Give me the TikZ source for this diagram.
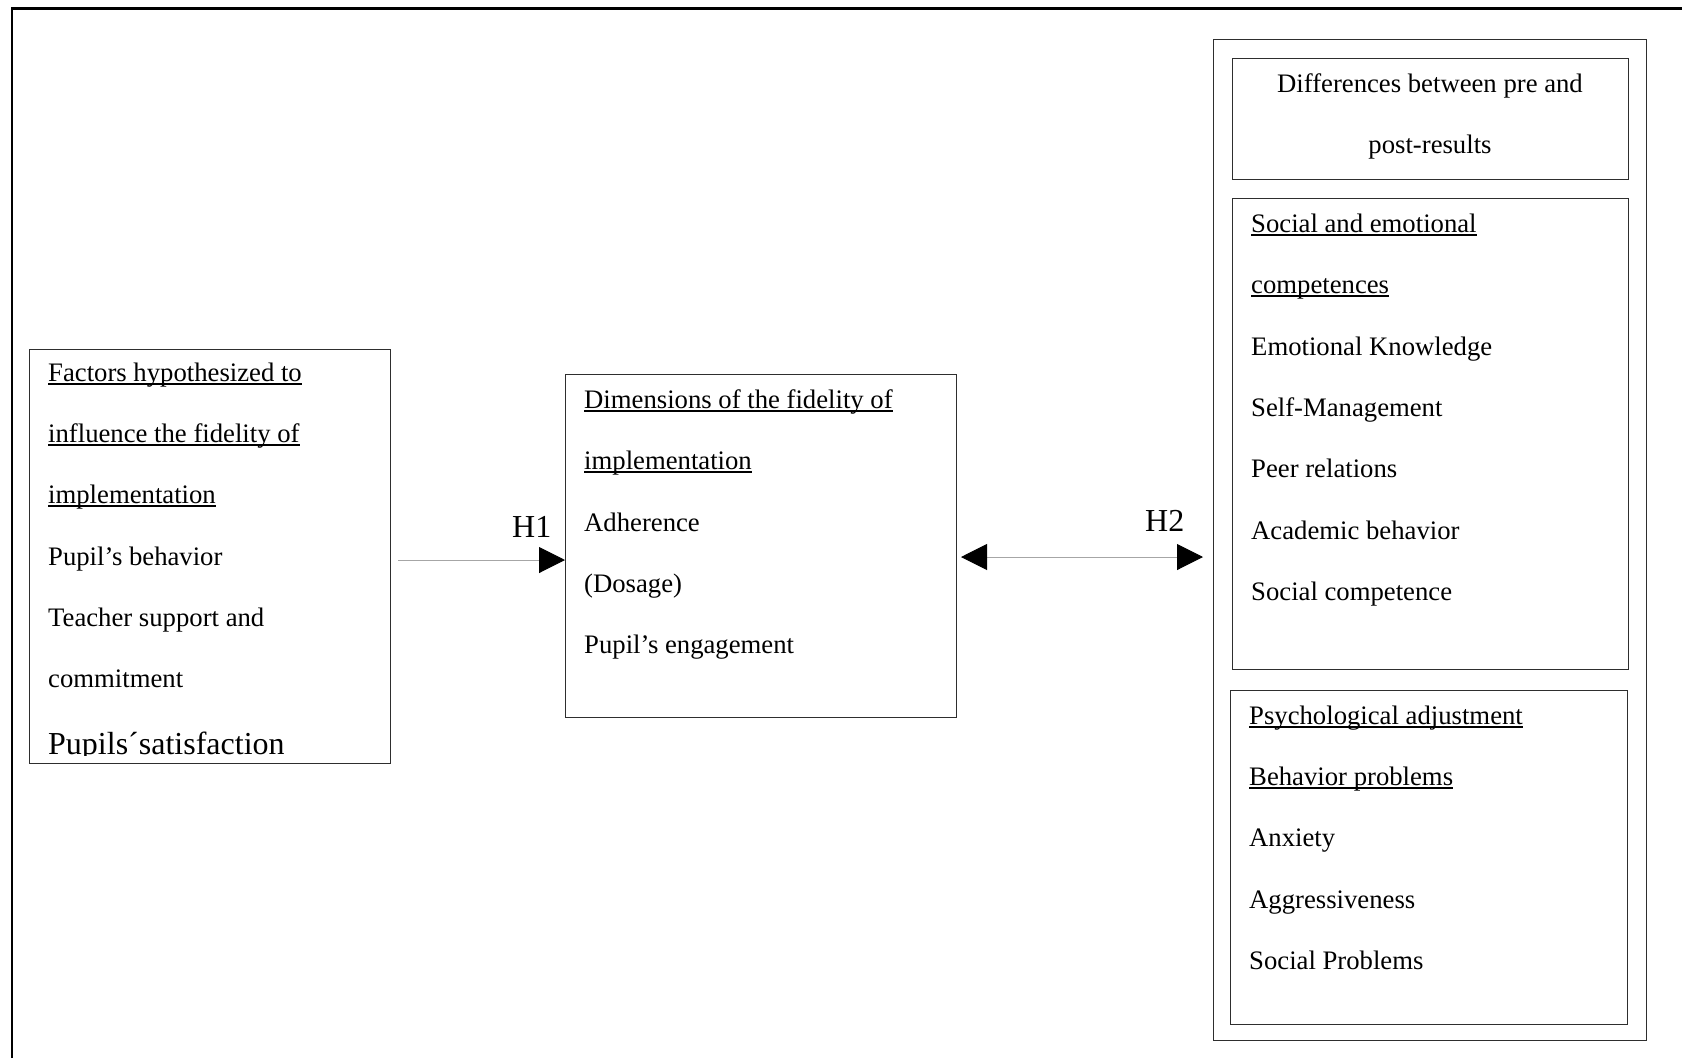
\documentclass[tikz,border=0pt]{standalone}
\usepackage{fontspec}
\setmainfont{Liberation Serif}
\usetikzlibrary{arrows.meta,positioning}
\definecolor{boxline}{HTML}{2E2E2E}
\definecolor{arrowgray}{HTML}{A6A6A6}
\newcommand\bodyfont{\fontsize{26.7}{32}\selectfont}
\newcommand\bigfont{\fontsize{32}{38}\selectfont}
\newcommand\ulin[1]{\setbox0\hbox{#1}\rlap{\rule[-3.6pt]{\wd0}{2pt}}\box0}
\tikzset{
  box/.style={draw=boxline,line width=1.4pt,inner sep=0pt,anchor=north west},
  item/.style={anchor=base west,inner sep=0pt,font=\bodyfont},
  hyp/.style={anchor=base west,inner sep=0pt,font=\bigfont},
  link/.style={arrowgray,line width=1pt},
  headend/.style={-{Triangle[length=26pt,width=26pt,color=black]}},
  headboth/.style={{Triangle[length=26pt,width=26pt,color=black]}-{Triangle[length=26pt,width=26pt,color=black]}}
}

\begin{document}
\begin{tikzpicture}[x=1pt,y=-1pt]
  \useasboundingbox (0,0) rectangle (1682,1058);

  % page frame (top and left edges only)
  \draw[black,line width=2.6pt] (11.8,1058) -- (11.8,8.6) -- (1682,8.6);

  % Factors box
  \begin{scope}
    \clip (29,349) rectangle (391,755);
    \node[anchor=base west,inner sep=0pt,font=\bigfont] (f7) at (48,754) {Pupils´satisfaction};
  \end{scope}
  \node[box,minimum width=361pt,minimum height=414pt] (fac) at (29,349) {};
  \node[item] (f1) at (48,381) {\ulin{Factors hypothesized to}};
  \node[item] (f2) at (48,442) {\ulin{influence the fidelity of}};
  \node[item] (f3) at (48,503) {\ulin{implementation}};
  \node[item] (f4) at (48,565) {Pupil’s behavior};
  \node[item] (f5) at (48,626) {Teacher support and};
  \node[item] (f6) at (48,687) {commitment};

  % Dimensions box
  \node[box,minimum width=391pt,minimum height=343pt] (dim) at (565,374) {};
  \node[item] (d1) at (584,408) {\ulin{Dimensions of the fidelity of}};
  \node[item] (d2) at (584,469) {\ulin{implementation}};
  \node[item] (d3) at (584,531) {Adherence};
  \node[item] (d4) at (584,592) {(Dosage)};
  \node[item] (d5) at (584,653) {Pupil’s engagement};

  % Outcomes box
  \node[box,minimum width=433pt,minimum height=1001pt] (out) at (1213,39) {};
  \node[box,minimum width=396pt,minimum height=121pt] (diff) at (1232,58) {};
  \node[anchor=base,inner sep=0pt,font=\bodyfont] (r1) at (1430,92) {Differences between pre and};
  \node[anchor=base,inner sep=0pt,font=\bodyfont] (r2) at (1430,153) {post-results};

  \node[box,minimum width=396pt,minimum height=471pt] (sec) at (1232,198) {};
  \node[item] (s1) at (1251,232) {\ulin{Social and emotional}};
  \node[item] (s2) at (1251,293) {\ulin{competences}};
  \node[item] (s3) at (1251,355) {Emotional Knowledge};
  \node[item] (s4) at (1251,416) {Self-Management};
  \node[item] (s5) at (1251,477) {Peer relations};
  \node[item] (s6) at (1251,539) {Academic behavior};
  \node[item] (s7) at (1251,600) {Social competence};

  \node[box,minimum width=397pt,minimum height=334pt] (psy) at (1230,690) {};
  \node[item] (p1) at (1249,724) {\ulin{Psychological adjustment}};
  \node[item] (p2) at (1249,785) {\ulin{Behavior problems}};
  \node[item] (p3) at (1249,846) {Anxiety};
  \node[item] (p4) at (1249,908) {Aggressiveness};
  \node[item] (p5) at (1249,969) {Social Problems};

  % H1 link
  \coordinate (h1s) at (398,560);
  \draw[link,headend] (h1s) -- (h1s -| dim.west);
  \node[hyp] (h1) at (512,537) {H1};

  % H2 link
  \coordinate (h2s) at (961,557);
  \draw[link,headboth,shorten >=10pt] (h2s) -- (h2s -| out.west);
  \node[hyp] (h2) at (1145,531) {H2};
\end{tikzpicture}
\end{document}
